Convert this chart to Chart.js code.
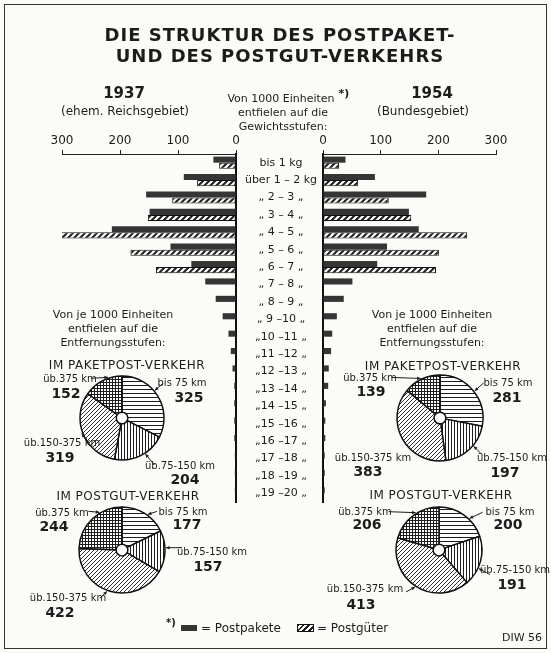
<!DOCTYPE html>
<html><head><meta charset="utf-8">
<script src="https://cdn.jsdelivr.net/npm/chart.js@4"></script>
<style>
html,body{margin:0;padding:0;}
body{width:551px;height:653px;position:relative;background:#fbfbf8;font-family:"DejaVu Sans",sans-serif;color:#1c1c1c;overflow:hidden;}
canvas{position:absolute;left:0;top:0;}
.t{position:absolute;white-space:nowrap;line-height:1;transform:translateX(-50%);}
#frame{position:absolute;left:4px;top:4px;width:541px;height:643px;border:1px solid #333;}
.sw{position:absolute;}
</style></head><body>
<div id="frame"></div>
<canvas id="barL" width="551" height="653"></canvas>
<canvas id="barR" width="551" height="653"></canvas>
<canvas id="pie1" width="551" height="653"></canvas>
<canvas id="pie2" width="551" height="653"></canvas>
<canvas id="pie3" width="551" height="653"></canvas>
<canvas id="pie4" width="551" height="653"></canvas>
<script>
// ---------- DATA ----------
const weightClasses = ['bis 1 kg','über 1 – 2 kg','„ 2 – 3 „','„ 3 – 4 „','„ 4 – 5 „','„ 5 – 6 „','„ 6 – 7 „','„ 7 – 8 „','„ 8 – 9 „','„ 9 –10 „','„10 –11 „','„11 –12 „','„12 –13 „','„13 –14 „','„14 –15 „','„15 –16 „','„16 –17 „','„17 –18 „','„18 –19 „','„19 –20 „'];
const pakete1937 = [39,90,155,149,214,113,77,53,35,23,13,9,6,3,3,3,3,2,2,2];
const gueter1937 = [29,67,110,152,318,182,138,null,null,null,null,null,null,null,null,null,null,null,null,null];
const pakete1954 = [39,90,179,149,166,111,94,51,36,24,16,14,10,9,5,4,4,3,3,3];
const gueter1954 = [28,61,114,153,250,201,196,null,null,null,null,null,null,null,null,null,null,null,null,null];
const axisTicks = [0,100,200,300];
const distanceBands = ['bis 75 km','üb.75-150 km','üb.150-375 km','üb.375 km'];
const paket1937 = [325,204,319,152];
const paket1954 = [281,197,383,139];
const gut1937 = [177,157,422,244];
const gut1954 = [200,191,413,206];

// ---------- helpers ----------
const FAM = '"DejaVu Sans", sans-serif';
function addText(txt, x, y, size, opts) {
  opts = opts || {};
  const d = document.createElement('div'); d.className = 't'; d.textContent = txt;
  d.style.left = x + 'px'; d.style.top = (y - size * 0.5) + 'px'; d.style.fontSize = size + 'px';
  if (opts.bold) d.style.fontWeight = 'bold';
  if (opts.ls) d.style.letterSpacing = opts.ls + 'px';
  document.body.appendChild(d); return d;
}
function makePattern(w, h, draw) {
  const c = document.createElement('canvas'); c.width = w; c.height = h;
  const g = c.getContext('2d'); g.fillStyle = '#fff'; g.fillRect(0, 0, w, h);
  g.strokeStyle = '#1e1e1e'; g.fillStyle = '#1e1e1e'; draw(g, w, h);
  return g.createPattern(c, 'repeat');
}
const patHoriz = makePattern(4, 4, g => g.fillRect(0, 1, 4, 1));
const patVert = makePattern(3, 3, g => g.fillRect(1, 0, 1, 3));
const patDiag = makePattern(4, 4, g => { g.lineWidth = 0.9; g.beginPath(); g.moveTo(0, 4); g.lineTo(4, 0); g.moveTo(-1, 1); g.lineTo(1, -1); g.moveTo(3, 5); g.lineTo(5, 3); g.stroke(); });
const patGrid = makePattern(3, 3, g => { g.fillRect(0, 1, 3, 1); g.fillRect(1, 0, 1, 3); });
const patBar = makePattern(6, 6, g => { g.lineWidth = 2; g.beginPath(); g.moveTo(0, 6); g.lineTo(6, 0); g.moveTo(-1, 1); g.lineTo(1, -1); g.moveTo(5, 7); g.lineTo(7, 5); g.stroke(); });
const darkFill = '#353535';

// ---------- bar charts ----------
const barLayout = {
  left:  { padding: { left: 62, right: 551 - 236, top: 132, bottom: 151 } },
  right: { padding: { left: 236, right: 551 - 496, top: 132, bottom: 151 } }
};
function barChart(id, pakete, gueter, side) {
  const isLeft = side === 'left';
  return new Chart(document.getElementById(id), {
    type: 'bar',
    data: {
      labels: weightClasses,
      datasets: [
        { label: 'Postpakete', data: pakete, backgroundColor: darkFill, borderWidth: 0, barPercentage: 1, categoryPercentage: 0.7 },
        { label: 'Postgüter', data: gueter, backgroundColor: patBar, borderColor: '#111', borderWidth: 1, borderSkipped: false, barPercentage: 1, categoryPercentage: 0.7 }
      ]
    },
    options: {
      indexAxis: 'y', responsive: false, animation: false, events: [],
      layout: barLayout[side],
      plugins: { legend: { display: false }, tooltip: { enabled: false } },
      scales: {
        x: {
          position: 'top', reverse: isLeft, min: 0, max: 300,
          afterBuildTicks: s => { s.ticks = axisTicks.map(v => ({ value: v })); },
          grid: { drawOnChartArea: false, drawTicks: true, tickLength: 4, color: '#222', lineWidth: 1 },
          border: { display: true, color: '#222', width: 1 },
          ticks: { font: { size: 12, family: FAM }, color: '#1c1c1c', padding: 2, maxRotation: 0, autoSkip: false },
          afterFit: s => { s.height = 22; }
        },
        y: {
          position: isLeft ? 'right' : 'left',
          grid: { display: false, drawTicks: false },
          border: { display: true, color: '#111', width: 2 },
          ticks: isLeft ? { display: false } : { crossAlign: 'center', font: { size: 11, family: FAM }, color: '#1c1c1c', padding: 6, autoSkip: false },
          afterFit: s => { s.width = isLeft ? 0 : 87; }
        }
      }
    }
  });
}
barChart('barL', pakete1937, gueter1937, 'left');
barChart('barR', pakete1954, gueter1954, 'right');

// ---------- pies ----------
const leaderPlugin = {
  id: 'leaders',
  afterDatasetsDraw(chart, args, opts) {
    const arc = chart.getDatasetMeta(0).data[0];
    if (!arc) return;
    const { x, y, outerRadius } = arc.getProps(['x', 'y', 'outerRadius'], true);
    const ctx = chart.ctx; ctx.save();
    ctx.strokeStyle = '#1c1c1c'; ctx.fillStyle = '#1c1c1c'; ctx.lineWidth = 1;
    (opts.lines || []).forEach(l => {
      const a = l.a * Math.PI / 180;
      const px = x + (outerRadius + 1) * Math.sin(a), py = y - (outerRadius + 1) * Math.cos(a);
      const sx = px + l.dx, sy = py + l.dy;
      ctx.beginPath(); ctx.moveTo(sx, sy); ctx.lineTo(px, py); ctx.stroke();
      const ang = Math.atan2(py - sy, px - sx);
      ctx.beginPath(); ctx.moveTo(px, py);
      ctx.lineTo(px - 4 * Math.cos(ang - 0.45), py - 4 * Math.sin(ang - 0.45));
      ctx.lineTo(px - 4 * Math.cos(ang + 0.45), py - 4 * Math.sin(ang + 0.45));
      ctx.closePath(); ctx.fill();
    });
    ctx.restore();
  }
};
function pieChart(id, values, cx, cy, r, lines) {
  const pad = { left: cx - r - 2, right: 551 - cx - r - 2, top: cy - r - 2, bottom: 653 - cy - r - 2 };
  return new Chart(document.getElementById(id), {
    type: 'doughnut',
    data: { labels: distanceBands, datasets: [{ data: values, backgroundColor: [patHoriz, patVert, patDiag, patGrid], borderColor: '#111', borderWidth: 1.5 }] },
    options: {
      responsive: false, animation: false, events: [],
      radius: r, cutout: 6,
      layout: { padding: pad },
      plugins: { legend: { display: false }, tooltip: { enabled: false }, leaders: { lines } }
    },
    plugins: [leaderPlugin]
  });
}
pieChart('pie1', paket1937, 122, 418, 42, [{a:341,dx:-17,dy:1},{a:50,dx:8,dy:-7},{a:147,dx:9,dy:11},{a:249,dx:6,dy:10}]);
pieChart('pie2', paket1954, 440, 418, 43, [{a:334,dx:-29,dy:-1},{a:52,dx:9,dy:-8},{a:130,dx:9,dy:9}]);
pieChart('pie3', gut1937, 122, 550, 43, [{a:329,dx:-11,dy:-1},{a:36,dx:9,dy:-3},{a:87,dx:16,dy:0},{a:200,dx:-7,dy:7}]);
pieChart('pie4', gut1954, 439, 550, 43, [{a:328,dx:-27,dy:-1},{a:44,dx:13,dy:-6},{a:115,dx:11,dy:6},{a:213,dx:-9,dy:5}]);

// ---------- texts ----------
addText('DIE STRUKTUR DES POSTPAKET-', 280, 35, 18, { bold: true, ls: 1 });
addText('UND DES POSTGUT-VERKEHRS', 280, 56, 18, { bold: true, ls: 1 });
addText('1937', 124, 93, 15, { bold: true });
addText('(ehem. Reichsgebiet)', 125, 111, 12);
addText('1954', 432, 93, 15, { bold: true });
addText('(Bundesgebiet)', 423, 111, 12);
addText('Von 1000 Einheiten', 281, 98, 11);
addText('*)', 344, 93, 11, { bold: true });
addText('entfielen auf die', 283, 112, 11);
addText('Gewichtsstufen:', 283, 126, 11);
['Von je 1000 Einheiten', 'entfielen auf die', 'Entfernungsstufen:'].forEach((s, i) => {
  addText(s, 113, 314 + i * 14, 11);
  addText(s, 432, 314 + i * 14, 11);
});
addText('IM PAKETPOST-VERKEHR', 127, 365, 12, { ls: 0.5 });
addText('IM PAKETPOST-VERKEHR', 443, 366, 12, { ls: 0.5 });
addText('IM POSTGUT-VERKEHR', 128, 496, 12, { ls: 0.5 });
addText('IM POSTGUT-VERKEHR', 441, 495, 12, { ls: 0.5 });

// pie labels: positions per band [nameX,nameY,valueX,valueY]
const pieLabelPos = {
  p1: [[182,383,189,397],[180,466,185,479],[62,443,60,457],[70,379,66,393]],
  p2: [[508,383,507,397],[512,458,505,472],[373,458,368,471],[370,378,371,391]],
  p3: [[183,512,187,524],[212,552,208,566],[68,598,60,612],[62,513,54,526]],
  p4: [[510,512,508,524],[515,570,512,584],[365,589,361,604],[365,512,367,524]]
};
[['p1', paket1937], ['p2', paket1954], ['p3', gut1937], ['p4', gut1954]].forEach(([k, vals]) => {
  pieLabelPos[k].forEach((p, i) => {
    addText(distanceBands[i], p[0], p[1], 10);
    addText(String(vals[i]), p[2], p[3], 14, { bold: true });
  });
});

// legend
addText('*)', 171, 623, 10, { bold: true });
const sw1 = document.createElement('div'); sw1.className = 'sw';
Object.assign(sw1.style, { left: '181px', top: '625px', width: '16px', height: '6px', background: darkFill });
document.body.appendChild(sw1);
const l1 = addText('= Postpakete', 0, 628, 12); l1.style.transform = 'none'; l1.style.left = '201px';
const sw2 = document.createElement('div'); sw2.className = 'sw';
Object.assign(sw2.style, { left: '297px', top: '624px', width: '15px', height: '6px', border: '1px solid #111', background: 'repeating-linear-gradient(-45deg,#fff 0 2px,#222 2px 4px)' });
document.body.appendChild(sw2);
const l2 = addText('= Postgüter', 0, 628, 12); l2.style.transform = 'none'; l2.style.left = '317px';
const diw = addText('DIW 56', 0, 637, 11); diw.style.transform = 'none'; diw.style.left = '502px';
</script>
</body></html>
